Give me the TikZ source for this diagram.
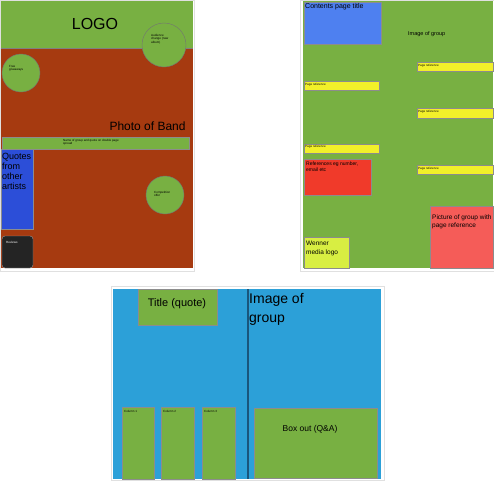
\documentclass[tikz,border=0pt]{standalone}
\usepackage{fontspec}
\setmainfont{Liberation Sans}
\definecolor{pgreen}{RGB}{120,176,66}
\definecolor{pbrown}{RGB}{166,58,16}
\definecolor{pblue}{RGB}{44,78,216}
\definecolor{pdark}{RGB}{36,36,36}
\definecolor{cblue}{RGB}{78,128,240}
\definecolor{pyellow}{RGB}{242,240,42}
\definecolor{pred}{RGB}{240,58,42}
\definecolor{plred}{RGB}{245,92,88}
\definecolor{pyg}{RGB}{216,238,66}
\definecolor{sky}{RGB}{44,160,216}
\definecolor{skyline}{RGB}{26,86,124}
\begin{document}
\begin{tikzpicture}[x=1pt,y=-1pt,
  box/.style={draw=black!45,line width=0.5pt},
  circ/.style={draw=black!55,fill=pgreen,line width=0.4pt},
  tiny/.style={font=\fontsize{3}{3.6}\selectfont,align=left,inner sep=0pt,anchor=north west},
  small/.style={font=\fontsize{5}{6}\selectfont,align=left,inner sep=0pt,anchor=north west}]
\useasboundingbox (0,0) rectangle (494,480);
% ---------- panel 1 ----------
\draw[black!12,line width=0.8pt] (0,0) rectangle (194,271);
\fill[pgreen] (1,1) rectangle (193,48);
\fill[pbrown] (1,48) rectangle (193,268);
\draw[black!50,line width=0.5pt] (1,48) -- (193,48);
\node[font=\fontsize{16}{18}\selectfont] (logo) at (95,24) {LOGO};
\draw[circ] (164,45) circle (22);
\node[tiny] (aud) at (151,34) {Audience\\change (new\\album)};
\draw[circ] (21,73) circle (19);
\node[tiny] (free) at (9,65) {Free\\giveaways};
\node[font=\fontsize{12}{14}\selectfont,anchor=west] (photo) at (106,126) {Photo of Band};
\draw[box,fill=pgreen] (2,137) rectangle (189,149);
\node[tiny] (name) at (63,139) {Name of group and quote on double page\\spread};
\draw[box,fill=pblue] (1,149) rectangle (33,229);
\node[font=\fontsize{9}{10}\selectfont,align=left,anchor=north west,inner sep=0pt] (quotes) at (2,153.5) {Quotes\\from\\other\\artists};
\draw[circ] (165,195) circle (19);
\node[tiny] (comp) at (154,191) {Competition\\offer};
\draw[black!40,fill=pdark,rounded corners=3pt] (2,236) rectangle (33,268);
\node[tiny,text=white] (rev) at (6,241) {Reviews};
% ---------- panel 2 ----------
\draw[black!12,line width=0.8pt] (300,0) rectangle (494,271);
\fill[pgreen] (303,1) rectangle (493,268);
\draw[box,fill=cblue] (304,2) rectangle (381,44);
\node[font=\fontsize{7}{8}\selectfont,anchor=north west,inner sep=0pt] (cpt) at (305,3) {Contents page title};
\node[font=\fontsize{5.5}{6}\selectfont,anchor=west,inner sep=0pt] (img) at (408,34) {Image of group};
\draw[box,fill=pyellow] (417,62) rectangle (493,71);
\node[tiny,anchor=west] (pr1) at (418,66) {Page reference};
\draw[box,fill=pyellow] (304,81) rectangle (379,90);
\node[tiny,anchor=west] (pr2) at (305,85) {Page reference};
\draw[box,fill=pyellow] (417,108) rectangle (493,118);
\node[tiny,anchor=west] (pr3) at (418,112) {Page reference};
\draw[box,fill=pyellow] (304,144) rectangle (379,153);
\node[tiny,anchor=west] (pr4) at (305,147) {Page reference};
\draw[box,fill=pyellow] (417,165) rectangle (493,174);
\node[tiny,anchor=west] (pr5) at (418,168.5) {Page reference};
\draw[box,fill=pred] (304,159) rectangle (371,195);
\node[small] (refs) at (306,162) {References eg number,\\email etc};
\draw[box,fill=plred] (430,206) rectangle (493,268);
\node[font=\fontsize{6.5}{8}\selectfont,align=left,anchor=north west,inner sep=0pt] (pic) at (432,215) {Picture of group with\\page reference};
\draw[box,fill=pyg] (304,237) rectangle (349,268);
\node[font=\fontsize{6.5}{9}\selectfont,align=left,anchor=north west,inner sep=0pt] (wen) at (306,241) {Wenner\\media logo};
% ---------- panel 3 ----------
\draw[black!12,line width=0.8pt] (111,286) rectangle (384,480);
\fill[sky] (113,289) rectangle (381,479);
\draw[skyline,line width=1.2pt] (248,289) -- (248,479);
\draw[box,fill=pgreen] (138,289) rectangle (217,325);
\node[font=\fontsize{11}{13}\selectfont] (title) at (177,304) {Title (quote)};
\node[font=\fontsize{14}{19}\selectfont,align=left,anchor=north west,inner sep=0pt] (img3) at (249,293) {Image of\\group};
\draw[box,fill=pgreen] (122,407) rectangle (154,479);
\node[tiny] (c1) at (124,410) {Column 1};
\draw[box,fill=pgreen] (161,407) rectangle (194,479);
\node[tiny] (c2) at (163,410) {Column 2};
\draw[box,fill=pgreen] (202,407) rectangle (235,479);
\node[tiny] (c3) at (204,410) {Column 3};
\draw[box,fill=pgreen] (254,408) rectangle (377,478);
\node[font=\fontsize{8.5}{10}\selectfont] (bo) at (310,429) {Box out (Q\&A)};
\end{tikzpicture}
\end{document}
